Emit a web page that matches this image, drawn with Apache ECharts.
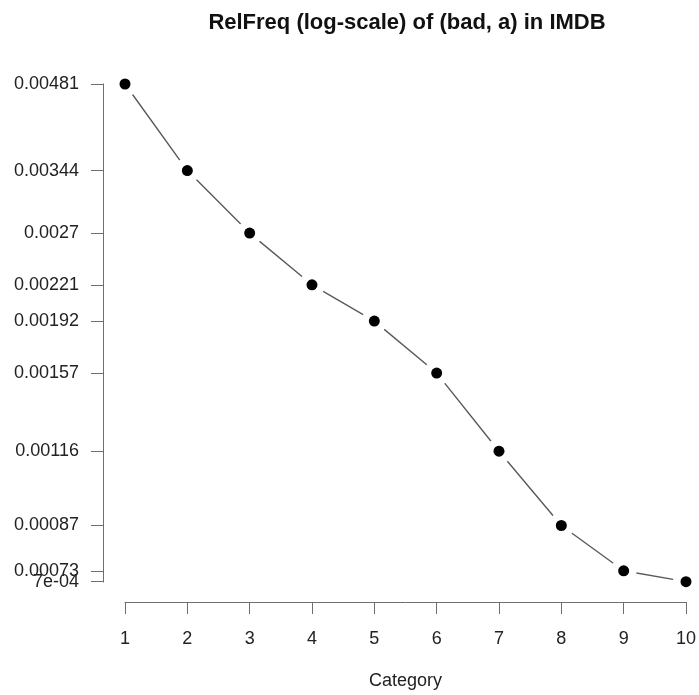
<!DOCTYPE html>
<html>
<head>
<meta charset="utf-8">
<script src="https://cdn.jsdelivr.net/npm/echarts@6/dist/echarts.min.js"></script>
<style>
  html, body { margin: 0; padding: 0; background: #fff; }
  #chart { width: 699px; height: 695px; }
</style>
</head>
<body>
<div id="chart"></div>
<script>
// Relative frequency of the pair (bad, a) per rating category
const categories = [1, 2, 3, 4, 5, 6, 7, 8, 9, 10];
const relFreq = [0.00481, 0.00344, 0.0027, 0.00221, 0.00192, 0.00157, 0.00116, 0.00087, 0.00073, 0.0007];
const yTickValues = [0.00481, 0.00344, 0.0027, 0.00221, 0.00192, 0.00157, 0.00116, 0.00087, 0.00073, 0.0007];
const yTickLabels = ['0.00481', '0.00344', '0.0027', '0.00221', '0.00192', '0.00157', '0.00116', '0.00087', '0.00073', '7e-04'];

const points = categories.map((c, i) => [c, relFreq[i]]);
const FONT = 'Liberation Sans, Arial, Helvetica, sans-serif';
const AXIS_GREY = '#6e6e6e';
const Y_MIN = 0.000699;
const Y_MAX = 0.00481;

function yLabel(v) {
  let best = 0, bestD = Infinity;
  yTickValues.forEach((t, i) => {
    const d = Math.abs(Math.log(t) - Math.log(v));
    if (d < bestD) { bestD = d; best = i; }
  });
  return yTickLabels[best];
}

// The two lowest ticks sit very close together; ECharts drops one of a
// colliding pair at the axis end, so the bottom tick lives on a twin axis.
const mainTicks = yTickValues.slice(0, -1);
const bottomTicks = yTickValues.slice(-1);

function logAxis(ticks, showLine) {
  return {
    type: 'log',
    logBase: 10,
    min: Y_MIN,
    max: Y_MAX,
    position: 'left',
    offset: 22,
    splitLine: { show: false },
    axisLine: { show: showLine, lineStyle: { color: AXIS_GREY, width: 1 } },
    axisTick: { show: true, length: 12, customValues: ticks, lineStyle: { color: AXIS_GREY, width: 1 } },
    axisLabel: {
      margin: 24,
      customValues: ticks,
      fontFamily: FONT, fontSize: 18, color: '#222',
      formatter: yLabel
    }
  };
}

const chart = echarts.init(document.getElementById('chart'), null, { renderer: 'canvas' });
chart.setOption({
  backgroundColor: '#ffffff',
  animation: false,
  title: {
    text: 'RelFreq (log-scale) of (bad, a) in IMDB',
    left: 402,
    top: 7,
    textAlign: 'center',
    textStyle: { fontFamily: FONT, fontSize: 22, fontWeight: 'bold', color: '#111' }
  },
  grid: { left: 125, right: 10, top: 84, bottom: 112, containLabel: false },
  xAxis: {
    type: 'value',
    min: 1,
    max: 10,
    interval: 1,
    offset: 20,
    name: 'Category',
    nameLocation: 'middle',
    nameGap: 70,
    nameTextStyle: { fontFamily: FONT, fontSize: 18, color: '#222' },
    splitLine: { show: false },
    axisLine: { show: true, lineStyle: { color: AXIS_GREY, width: 1 } },
    axisTick: { show: true, length: 12, lineStyle: { color: AXIS_GREY, width: 1 } },
    axisLabel: { margin: 28, fontFamily: FONT, fontSize: 18, color: '#222' }
  },
  yAxis: [logAxis(mainTicks, true), logAxis(bottomTicks, false)],
  series: [
    {
      type: 'line',
      data: points,
      yAxisIndex: 0,
      showSymbol: false,
      symbol: 'none',
      z: 2,
      lineStyle: { color: '#5a5a5a', width: 1.4 }
    },
    {
      // white halo leaves a gap in the connecting line around each point
      type: 'scatter',
      data: points,
      yAxisIndex: 0,
      symbol: 'circle',
      symbolSize: 26,
      z: 3,
      itemStyle: { color: '#ffffff', opacity: 1 },
      silent: true
    },
    {
      type: 'scatter',
      data: points,
      yAxisIndex: 0,
      symbol: 'circle',
      symbolSize: 11,
      z: 4,
      itemStyle: { color: '#000000', opacity: 1 }
    }
  ]
});
</script>
</body>
</html>
